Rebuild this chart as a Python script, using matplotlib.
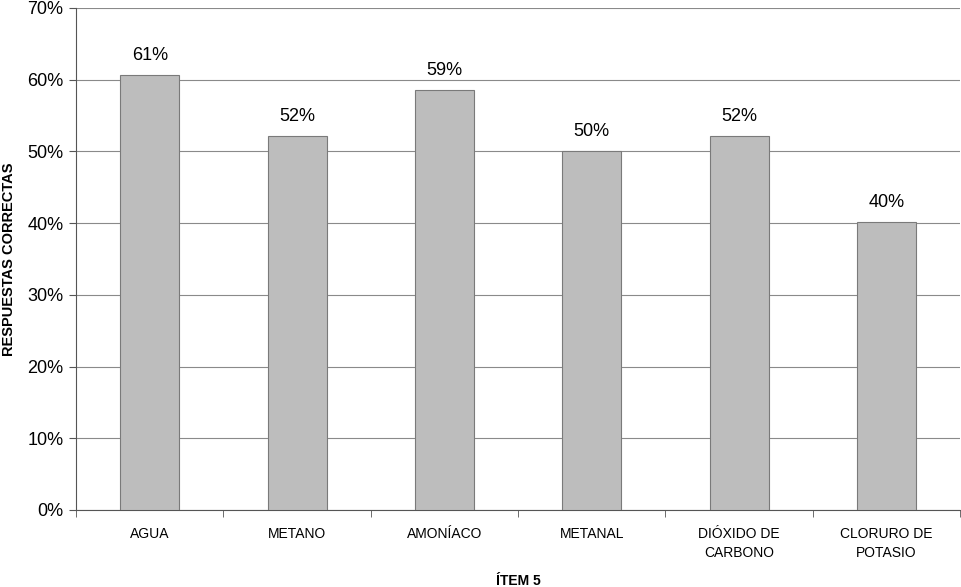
import matplotlib.pyplot as plt
from matplotlib.ticker import FuncFormatter, FixedLocator, NullFormatter

plt.rcParams['font.family'] = ['Liberation Sans', 'DejaVu Sans']

# data
categorias = ["AGUA", "METANO", "AMONÍACO", "METANAL", "DIÓXIDO DE\nCARBONO", "CLORURO DE\nPOTASIO"]
porcentajes = [60.7, 52.1, 58.6, 50.0, 52.1, 40.2]

fig = plt.figure(figsize=(9.61, 5.87), dpi=100)
ax = fig.add_axes([0.0791, 0.1312, 0.92, 0.8552])

x = list(range(len(categorias)))
ax.bar(x, porcentajes, width=0.4, color='#bdbdbd', edgecolor='#7a7a7a', linewidth=0.8, zorder=3)

for xi, v in zip(x, porcentajes):
    ax.annotate("%d%%" % round(v), (xi, v), xytext=(0, 8), textcoords='offset points',
                ha='center', va='bottom', fontsize=13)

ax.set_xlim(-0.5, len(categorias) - 0.5)
ax.set_ylim(0, 70)
ax.set_yticks(range(0, 71, 10))
ax.yaxis.set_major_formatter(FuncFormatter(lambda v, p: "%d%%" % v))
ax.tick_params(axis='y', labelsize=13, length=5, color='#555555', pad=4)
ax.grid(axis='y', color='#8a8a8a', linewidth=0.8, zorder=0)

# ticks between categories, labels at centres
ax.set_xticks(x)
ax.set_xticklabels(categorias, fontsize=10, linespacing=1.5)
ax.tick_params(axis='x', which='major', length=0, pad=12)
ax.xaxis.set_minor_locator(FixedLocator([i + 0.5 for i in range(-1, len(categorias))]))
ax.xaxis.set_minor_formatter(NullFormatter())
ax.tick_params(axis='x', which='minor', length=5, color='#555555')

for s in ['top', 'right']:
    ax.spines[s].set_visible(False)
ax.spines['left'].set_color('#555555')
ax.spines['bottom'].set_color('#555555')

ax.set_ylabel("RESPUESTAS CORRECTAS", fontsize=10.5, fontweight='bold', labelpad=8)
ax.set_xlabel("ÍTEM 5", fontsize=10, fontweight='bold', labelpad=10)

fig.savefig("out.png", dpi=100)
